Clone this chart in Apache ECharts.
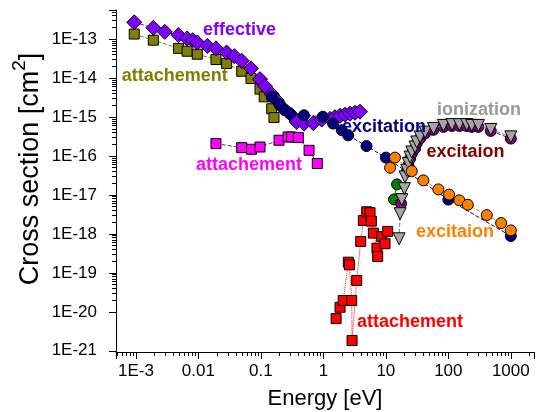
<!DOCTYPE html>
<html>
<head>
<meta charset="utf-8">
<script src="https://cdn.jsdelivr.net/npm/echarts@6/dist/echarts.min.js"></script>
<style>
  html, body { margin: 0; padding: 0; background: #fff; }
  #chart { width: 539px; height: 412px; }
</style>
</head>
<body>
<div id="chart"></div>
<script>
// Energy [eV] and cross section [cm^2] for each data set
const effectiveE = [0.00094, 0.0019, 0.0029, 0.0048, 0.0066, 0.0081, 0.0096, 0.0139, 0.0191, 0.0283, 0.0375, 0.0493, 0.0694, 0.0968, 0.116, 0.149, 0.179, 0.229, 0.311, 0.374, 0.49, 0.69, 0.94, 1.28, 1.53, 1.85, 2.22, 2.67, 3.21, 3.86];
const effectiveS = [2.7e-13, 1.95e-13, 1.54e-13, 1.27e-13, 1.04e-13, 9.4e-14, 8.2e-14, 6.7e-14, 5.8e-14, 4.55e-14, 3.66e-14, 2.77e-14, 1.77e-14, 9.4e-15, 6.2e-15, 3.86e-15, 2.7e-15, 1.66e-15, 1.11e-15, 7.5e-16, 6.8e-16, 7.0e-16, 8.6e-16, 9.0e-16, 9.9e-16, 1.08e-15, 1.15e-15, 1.22e-15, 1.29e-15, 1.37e-15];

const attachOliveE = [0.00094, 0.0019, 0.0048, 0.0066, 0.0096, 0.0191, 0.0283, 0.0493, 0.0694, 0.0968, 0.113, 0.149, 0.162];
const attachOliveS = [1.35e-13, 9.4e-14, 5.8e-14, 4.9e-14, 4.1e-14, 3.0e-14, 2.37e-14, 1.5e-14, 9.8e-15, 5.2e-15, 3.3e-15, 1.63e-15, 9.7e-16];

const attachMagentaE = [0.0191, 0.0493, 0.071, 0.0968, 0.195, 0.273, 0.31, 0.398, 0.59, 0.80];
const attachMagentaS = [2.08e-16, 1.64e-16, 1.49e-16, 1.70e-16, 2.54e-16, 3.08e-16, 3.08e-16, 2.97e-16, 1.40e-16, 6.4e-17];

const excitationNavyE = [0.149, 0.197, 0.243, 0.29, 0.49, 0.98, 1.43, 1.97, 2.5, 4.9, 10.0, 100, 1000];
const excitationNavyS = [3.3e-15, 2.13e-15, 1.5e-15, 1.23e-15, 1.11e-15, 1.02e-15, 6.8e-16, 4.6e-16, 3.4e-16, 1.8e-16, 9.1e-17, 7.6e-18, 8.8e-19];

const excitaionOrangeE = [11.7, 14.0, 26, 39.8, 69.3, 103, 150, 205, 413, 700, 1000];
const excitaionOrangeS = [5.0e-17, 9.1e-17, 4.1e-17, 2.37e-17, 1.39e-17, 1.02e-17, 7.3e-18, 5.6e-18, 3.04e-18, 1.9e-18, 1.23e-18];

const ionizationE = [16.3, 16.9, 18.0, 19.8, 20.3, 21.6, 22.9, 24.4, 26.0, 29.3, 31.2, 35.3, 42.5, 57.7, 83.4, 114, 150, 197, 237, 303, 478, 1000];
const ionizationS = [7.5e-19, 3.3e-18, 7.6e-18, 1.45e-17, 2.9e-17, 4.3e-17, 6.4e-17, 9.4e-17, 1.27e-16, 1.70e-16, 2.29e-16, 3.08e-16, 4.1e-16, 5.1e-16, 6.1e-16, 6.4e-16, 6.4e-16, 6.4e-16, 6.1e-16, 6.1e-16, 4.8e-16, 3.1e-16];

const excitaionPurpleE = [17.5, 21.6, 22.9, 24.4, 26.0, 29.3, 31.2, 35.3, 42.5, 57.7, 83.4, 114, 150, 197, 237, 303, 478, 1000];
const excitaionPurpleS = [6.0e-18, 3.9e-17, 5.8e-17, 8.5e-17, 1.15e-16, 1.55e-16, 2.1e-16, 2.8e-16, 3.8e-16, 4.7e-16, 5.6e-16, 5.9e-16, 5.9e-16, 5.9e-16, 5.6e-16, 5.6e-16, 4.4e-16, 2.8e-16];

const greenE = [13.5, 15.1];
const greenS = [7.7e-18, 1.87e-17];

const attachRedE = [1.60, 1.85, 2.08, 2.51, 2.61, 2.84, 2.88, 3.42, 3.96, 4.37, 4.94, 5.58, 5.86, 6.31, 7.2, 7.4, 8.59, 9.7, 10.7];
const attachRedS = [6.7e-21, 1.31e-20, 1.95e-20, 1.88e-19, 1.61e-19, 1.95e-20, 1.83e-21, 6.4e-20, 6.4e-19, 2.22e-18, 3.7e-18, 3.5e-18, 2.13e-18, 1.05e-18, 4.3e-19, 2.64e-19, 8.5e-19, 5.6e-19, 1.16e-18];

// Axis tick labels keyed by decade exponent
const xTickLabels = { '-3': '1E-3', '-2': '0.01', '-1': '0.1', '0': '1', '1': '10', '2': '100', '3': '1000' };
const yTickLabels = { '-13': '1E-13', '-14': '1E-14', '-15': '1E-15', '-16': '1E-16', '-17': '1E-17', '-18': '1E-18', '-19': '1E-19', '-20': '1E-20', '-21': '1E-21' };

const FONT = 'Liberation Sans, Arial, sans-serif';
const zip = (a, b) => a.map((v, i) => [v, b[i]]);

function makeSeries(name, xs, ys, opts) {
  return {
    name: name,
    type: 'line',
    data: zip(xs, ys),
    symbol: opts.symbol,
    symbolSize: opts.size,
    symbolRotate: opts.rotate || 0,
    showSymbol: true,
    z: opts.z,
    itemStyle: { color: opts.color, borderColor: '#000', borderWidth: 1, opacity: 1 },
    lineStyle: { color: opts.lineColor || opts.color, width: 1, type: opts.lineType || 'dashed' },
    emphasis: { disabled: true },
    animation: false
  };
}

const chart = echarts.init(document.getElementById('chart'), null, { renderer: 'canvas' });

const decadeLabel = (map) => (v) => {
  const e = Math.round(Math.log10(v));
  if (Math.abs(Math.log10(v) - e) > 1e-6) return '';
  return map[String(e)] || '';
};

chart.setOption({
  backgroundColor: '#fff',
  animation: false,
  grid: { left: 116, right: 5, top: 10, bottom: 60, containLabel: false, outerBoundsMode: 'none' },
  xAxis: {
    type: 'log',
    min: 0.00048,
    max: 2350,
    logBase: 10,
    axisLine: { show: true, onZero: false, lineStyle: { color: '#000', width: 1 } },
    axisTick: { show: true, inside: false, length: 7, lineStyle: { color: '#000', width: 1 } },
    minorTick: { show: true, splitNumber: 9, length: 4, lineStyle: { color: '#000', width: 1 } },
    splitLine: { show: false },
    minorSplitLine: { show: false },
    axisLabel: { color: '#000', fontSize: 17, fontFamily: FONT, margin: 11, showMinLabel: false, showMaxLabel: false, formatter: decadeLabel(xTickLabels) },
    name: 'Energy [eV]',
    nameLocation: 'middle',
    nameGap: 36,
    nameTextStyle: { color: '#000', fontSize: 22, fontFamily: FONT }
  },
  yAxis: {
    type: 'log',
    min: 9.3e-22,
    max: 5.6e-13,
    logBase: 10,
    axisLine: { show: true, onZero: false, lineStyle: { color: '#000', width: 1 } },
    axisTick: { show: true, inside: false, length: 7, lineStyle: { color: '#000', width: 1 } },
    minorTick: { show: true, splitNumber: 9, length: 4, lineStyle: { color: '#000', width: 1 } },
    splitLine: { show: false },
    minorSplitLine: { show: false },
    axisLabel: { color: '#000', fontSize: 17, fontFamily: FONT, margin: 19, showMinLabel: false, showMaxLabel: false, formatter: decadeLabel(yTickLabels) }
  },
  series: [
    makeSeries('attachement (olive)', attachOliveE, attachOliveS, { symbol: 'rect', size: 10, color: '#808000', z: 2 }),
    makeSeries('attachement (magenta)', attachMagentaE, attachMagentaS, { symbol: 'rect', size: 10, color: '#ff00ff', lineColor: '#444', z: 2 }),
    makeSeries('effective', effectiveE, effectiveS, { symbol: 'diamond', size: 15, color: '#8000ff', z: 3 }),
    makeSeries('excitation', excitationNavyE, excitationNavyS, { symbol: 'circle', size: 11, color: '#000080', z: 4 }),
    makeSeries('green', greenE, greenS, { symbol: 'circle', size: 11, color: '#008000', z: 4 }),
    makeSeries('excitaion (purple)', excitaionPurpleE, excitaionPurpleS, { symbol: 'circle', size: 11, color: '#800080', z: 5 }),
    makeSeries('ionization', ionizationE, ionizationS, { symbol: 'triangle', size: 12, rotate: 180, color: '#a6a6a6', lineColor: '#808080', z: 6 }),
    makeSeries('excitaion (orange)', excitaionOrangeE, excitaionOrangeS, { symbol: 'circle', size: 11, color: '#ff8000', z: 7 }),
    makeSeries('attachement (red)', attachRedE, attachRedS, { symbol: 'rect', size: 10, color: '#ff0000', lineType: 'dotted', z: 8 })
  ],
  graphic: [
    { type: 'text', x: 27, y: 169, rotation: Math.PI / 2, z: 10,
      style: { text: '{a|Cross section [cm}{s|2}{a|]}', align: 'center', verticalAlign: 'middle', fill: '#000',
        rich: { a: { fontSize: 27, fontFamily: FONT, fill: '#000', verticalAlign: 'bottom', lineHeight: 34 },
                s: { fontSize: 19, fontFamily: FONT, fill: '#000', verticalAlign: 'top', lineHeight: 34 } } } },
    { type: 'text', x: 239.5, y: 30, z: 10, style: { text: 'effective', align: 'center', verticalAlign: 'middle', fill: '#8000ff', font: 'bold 18px ' + FONT } },
    { type: 'text', x: 174.7, y: 76, z: 10, style: { text: 'attachement', align: 'center', verticalAlign: 'middle', fill: '#808000', font: 'bold 18px ' + FONT } },
    { type: 'text', x: 249, y: 165, z: 10, style: { text: 'attachement', align: 'center', verticalAlign: 'middle', fill: '#ff00ff', font: 'bold 18px ' + FONT } },
    { type: 'text', x: 384, y: 127, z: 10, style: { text: 'excitation', align: 'center', verticalAlign: 'middle', fill: '#000080', font: 'bold 18px ' + FONT } },
    { type: 'text', x: 479, y: 110, z: 10, style: { text: 'ionization', align: 'center', verticalAlign: 'middle', fill: '#999999', font: 'bold 18px ' + FONT } },
    { type: 'text', x: 465.5, y: 152, z: 10, style: { text: 'excitaion', align: 'center', verticalAlign: 'middle', fill: '#800000', font: 'bold 18px ' + FONT } },
    { type: 'text', x: 455, y: 232, z: 10, style: { text: 'excitaion', align: 'center', verticalAlign: 'middle', fill: '#ff8000', font: 'bold 18px ' + FONT } },
    { type: 'text', x: 410, y: 322, z: 10, style: { text: 'attachement', align: 'center', verticalAlign: 'middle', fill: '#ff0000', font: 'bold 18px ' + FONT } }
  ]
});
</script>
</body>
</html>
